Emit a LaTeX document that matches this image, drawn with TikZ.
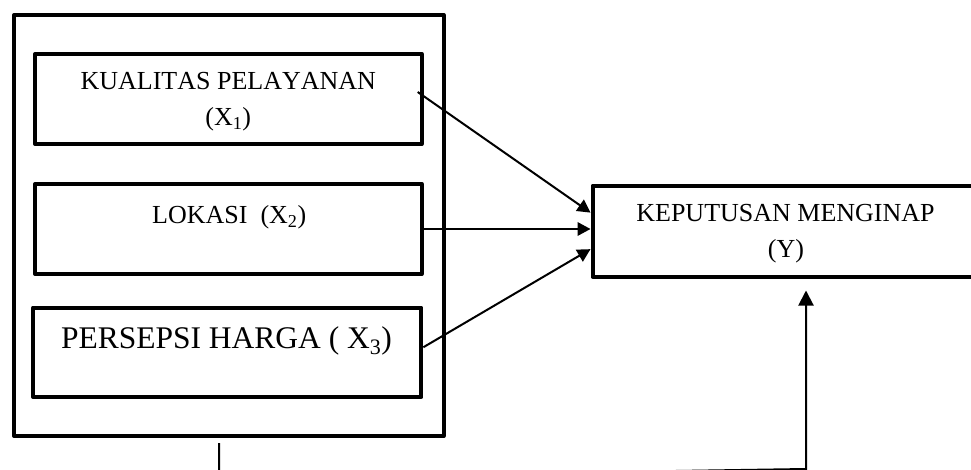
\documentclass[tikz,border=0pt]{standalone}
\usepackage{fontspec}
\setmainfont{Liberation Serif}
\usetikzlibrary{arrows.meta,calc}
\tikzset{
  boxnode/.style={draw, line width=4pt, line join=round, rectangle, inner sep=0pt},
  txt/.style={anchor=base, inner sep=0pt, font=\fontsize{26}{31}\selectfont},
  bigtxt/.style={anchor=base, inner sep=0pt, font=\fontsize{31.5}{37}\selectfont},
  conn/.style={line width=2pt, -{Triangle[length=13pt,width=13.5pt]}},
  upconn/.style={line width=2pt, line join=miter, -{Triangle[length=15pt,width=15pt]}}
}
\begin{document}
\begin{tikzpicture}[x=1pt,y=-1pt]
\clip (0,0) rectangle (971,470);
\fill[white] (0,0) rectangle (971,470);
% outer group box
\node[boxnode, minimum width=429.5pt, minimum height=421pt] (outer) at (228.75,225.5) {};
% inner boxes
\node[boxnode, minimum width=386.7pt, minimum height=90pt] (b1) at (228.35,99) {};
\node[boxnode, minimum width=386.7pt, minimum height=90pt] (b2) at (228.35,229) {};
\node[boxnode, minimum width=388.3pt, minimum height=89.5pt] (b3) at (227.2,352.25) {};
\node[boxnode, minimum width=389.5pt, minimum height=90.7pt] (y) at (787.25,231.15) {};
% texts
\node[txt] (t1a) at (228.3,90) {\addfontfeatures{Kerning=Off}KUALITAS PELAYANAN};
\node[txt] (t1b) at (228.3,126) {(X\textsubscript{1})};
\node[txt] (t2) at (229.2,224) {LOKASI\ \ (X\textsubscript{2})};
\node[bigtxt] (t3) at (226.5,348) {PERSEPSI HARGA ( X\textsubscript{3})};
\node[txt] (ty1) at (785.5,222) {KEPUTUSAN MENGINAP};
\node[txt] (ty2) at (786,258) {(Y)};
% connector points
\coordinate (s1) at ($(b1.east)+(-6,-7)$);
\coordinate (s3) at ($(b3.east)+(0,-5)$);
\coordinate (e1) at ($(y.west)+(0,-18.5)$);
\coordinate (e3) at ($(y.west)+(0,18)$);
\coordinate (c1) at ($(outer.south)+(-9.75,5)$);
\coordinate (c2) at ($(c1)+(0,35)$);
\coordinate (c3) at (806,469);
\coordinate (yin) at ($(y.south -| c3)+(0,12)$);
% connectors
\draw[conn] (s1) -- (e1);
\draw[conn] (b2.east) -- (y.west |- b2.east);
\draw[conn] (s3) -- (e3);
\draw[upconn] (c1) -- (c2) -- (c3) -- (yin);
\end{tikzpicture}
\end{document}
